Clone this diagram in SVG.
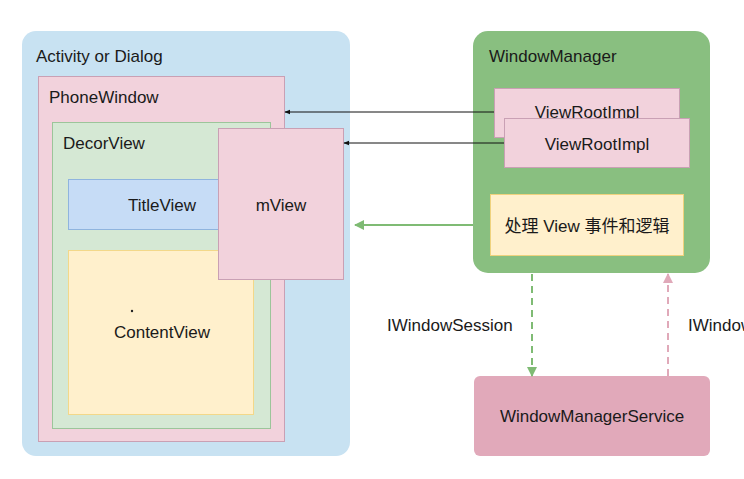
<svg xmlns="http://www.w3.org/2000/svg" width="744" height="479" viewBox="0 0 744 479">
<defs>
<style>
text{font-family:"Liberation Sans",Arial,"Noto Sans CJK SC",sans-serif;font-size:17px;fill:#1a1a1a}
.c{text-anchor:middle}
.pink{fill:#f2d2dc;stroke:#c9a0b4;stroke-width:1}
</style>
<marker id="ab" viewBox="0 0 10 10" refX="9" refY="5" markerWidth="6" markerHeight="6" orient="auto" markerUnits="userSpaceOnUse"><path d="M0,1 L10,5 L0,9 Z" fill="#111"/></marker>
<marker id="ag" viewBox="0 0 10 10" refX="9" refY="5" markerWidth="12" markerHeight="10" orient="auto" markerUnits="userSpaceOnUse"><path d="M0,0 L10,5 L0,10 Z" fill="#7fbb74"/></marker>
<marker id="ap" viewBox="0 0 10 10" refX="9" refY="5" markerWidth="12" markerHeight="10" orient="auto" markerUnits="userSpaceOnUse"><path d="M0,0 L10,5 L0,10 Z" fill="#e0a9b9"/></marker>
</defs>
<rect width="744" height="479" fill="#ffffff"/>
<g id="activity">
<rect x="22" y="31" width="328" height="425" rx="14" fill="#c8e2f2"/>
<text x="36" y="62">Activity or Dialog</text>
</g>
<g id="phonewindow">
<rect class="pink" x="38.5" y="76.5" width="246" height="365"/>
<text x="49" y="103">PhoneWindow</text>
</g>
<g id="decorview">
<rect x="52.5" y="122.5" width="218" height="306" fill="#d5e8d4" stroke="#9cc59a"/>
<text x="63" y="149">DecorView</text>
</g>
<g id="titleview">
<rect x="68.5" y="179.5" width="188" height="50" fill="#c6dcf6" stroke="#8fb4de"/>
<text class="c" x="162" y="211">TitleView</text>
</g>
<g id="contentview">
<rect x="68.5" y="250.5" width="185" height="164" fill="#fff0cc" stroke="#f3d889"/>
<text class="c" x="162" y="338">ContentView</text>
<circle cx="132" cy="311" r="1.2" fill="#222"/>
</g>
<g id="mview">
<rect class="pink" x="218.5" y="128.5" width="125" height="151"/>
<text class="c" x="281" y="211">mView</text>
</g>
<g id="windowmanager">
<rect x="473" y="31" width="237" height="242" rx="15" fill="#89bf80"/>
<text x="489" y="62">WindowManager</text>
</g>
<g id="viewrootimpl1">
<rect class="pink" x="494.5" y="88.5" width="185" height="49"/>
<text class="c" x="587" y="118">ViewRootImpl</text>
</g>
<g id="viewrootimpl2">
<rect class="pink" x="504.5" y="118.5" width="185" height="49"/>
<text class="c" x="597" y="150">ViewRootImpl</text>
</g>
<g id="handler">
<rect x="490.5" y="194.5" width="193" height="61" fill="#fff0cc" stroke="#efd27d"/>
<text class="c" x="587" y="232">处理 View 事件和逻辑</text>
</g>
<g id="wms">
<rect x="474" y="376" width="236" height="80" rx="6" fill="#e1a9ba"/>
<text class="c" x="592" y="422">WindowManagerService</text>
</g>
<g id="connectors">
<line x1="494" y1="112" x2="285" y2="112" stroke="#111" stroke-width="1" marker-end="url(#ab)"/>
<line x1="504" y1="143" x2="344" y2="143" stroke="#111" stroke-width="1" marker-end="url(#ab)"/>
<line x1="473" y1="225" x2="355" y2="225" stroke="#7fbb74" stroke-width="2" marker-end="url(#ag)"/>
<line x1="532" y1="274" x2="532" y2="376" stroke="#7fbb74" stroke-width="2" stroke-dasharray="7,5" marker-end="url(#ag)"/>
<line x1="668" y1="376" x2="668" y2="274" stroke="#e0a9b9" stroke-width="2" stroke-dasharray="7,5" marker-end="url(#ap)"/>
<text x="387" y="331">IWindowSession</text>
<text x="688" y="331">IWindow</text>
</g>
</svg>
